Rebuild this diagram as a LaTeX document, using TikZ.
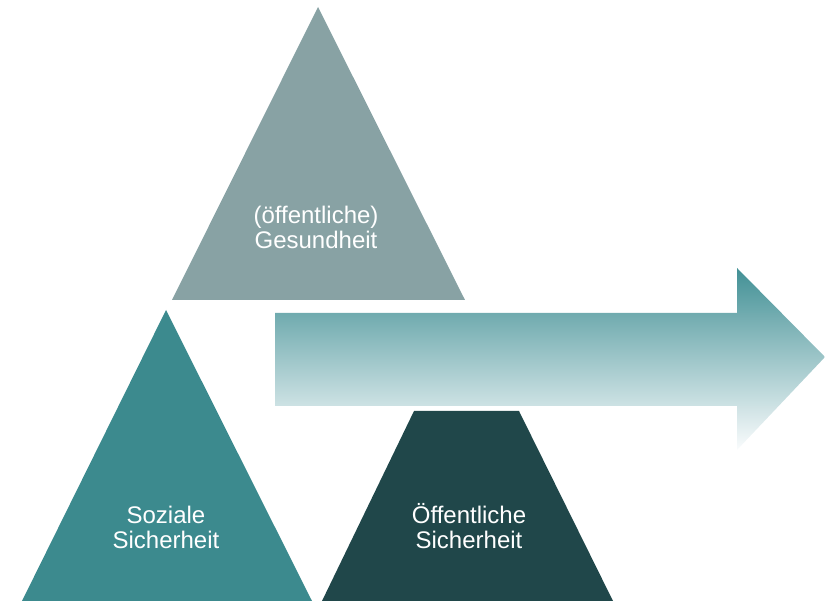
\documentclass[tikz,border=0pt]{standalone}
\usepackage{fontspec}
\setmainfont{Liberation Sans}
\definecolor{topgray}{RGB}{136,162,164}
\definecolor{midteal}{RGB}{60,138,142}
\definecolor{darkteal}{RGB}{32,71,74}
\definecolor{arrtop}{RGB}{66,144,149}
\definecolor{arrbot}{RGB}{250,252,253}
\begin{document}
\begin{tikzpicture}[x=1pt,y=-1pt,
  lbl/.style={text=white,align=center,anchor=base,inner sep=0pt,font=\fontsize{24}{25}\selectfont}]
\useasboundingbox (0,0) rectangle (825,601);
% top triangle
\fill[topgray] (318,7) -- (465,300) -- (172,300) -- cycle;
% left triangle
\fill[midteal] (166,310) -- (312,601) -- (22,601) -- cycle;
% dark trapezoid
\fill[darkteal] (414,411) -- (519,411) -- (613,601) -- (322,601) -- cycle;
% arrow
\shade[top color=arrtop,bottom color=arrbot]
  (275,313) -- (737,313) -- (737,268) -- (825,357) -- (737,450) -- (737,406) -- (275,406) -- cycle;
\node[lbl] (gesund) at (316,249) {(öffentliche)\\Gesundheit};
\node[lbl] (sozial) at (166,548) {Soziale\\Sicherheit};
\node[lbl] (oeff) at (469,548) {Öffentliche\\Sicherheit};
\end{tikzpicture}
\end{document}
